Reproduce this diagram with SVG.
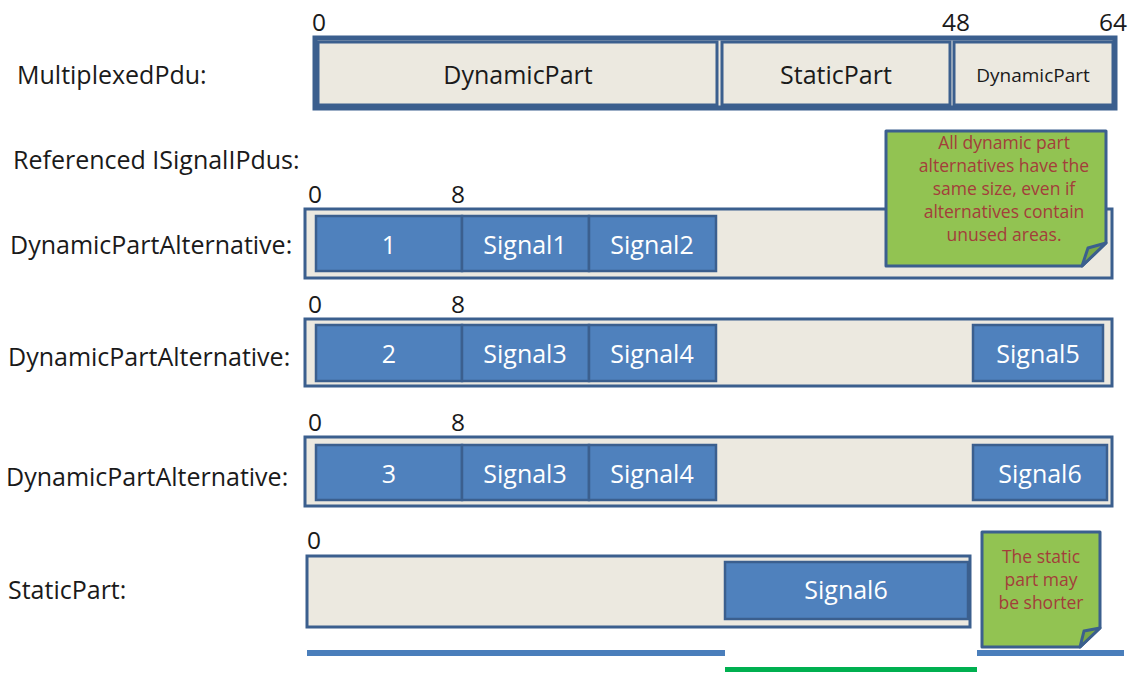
<svg xmlns="http://www.w3.org/2000/svg" width="1135" height="673" viewBox="0 0 1135 673">
<style>
text{font-family:"Open Sans","Liberation Sans",sans-serif;}
.lbl{font-size:25px;fill:#1a1a1a;}
.num{font-size:24.5px;fill:#1a1a1a;}
.outer{fill:#ece9e0;stroke:#3b5f8e;stroke-width:3;}
.pduouter{fill:#ece9e0;stroke:#3b5f8e;stroke-width:5;}
.cell{fill:#ece9e0;stroke:#3b5f8e;stroke-width:3;}
.sig{fill:#4f81bd;stroke:#3b5f8e;stroke-width:2.5;}
.ct{font-size:25px;fill:#1a1a1a;text-anchor:middle;}
.st{font-size:25px;fill:#ffffff;text-anchor:middle;}
.note{fill:#92c352;stroke:#3b5f8e;stroke-width:3;stroke-linejoin:round;}
.nt{font-size:17.5px;fill:#a33e3a;text-anchor:middle;}
</style>
<rect width="1135" height="673" fill="#ffffff"/>
<g id="labels">
<text class="lbl" x="17" y="84">MultiplexedPdu:</text>
<text class="lbl" x="13" y="169">Referenced ISignalIPdus:</text>
<text class="lbl" x="10" y="254">DynamicPartAlternative:</text>
<text class="lbl" x="8" y="366">DynamicPartAlternative:</text>
<text class="lbl" x="6" y="486">DynamicPartAlternative:</text>
<text class="lbl" x="8" y="599">StaticPart:</text>
</g>
<g id="multiplexedPdu">
<rect class="pduouter" x="315" y="38" width="800" height="70"/>
<rect class="cell" x="318" y="42" width="399" height="63"/>
<rect class="cell" x="722" y="42" width="228" height="63"/>
<rect class="cell" x="954" y="42" width="159" height="63"/>
<text class="ct" x="518" y="84">DynamicPart</text>
<text class="ct" x="836" y="84">StaticPart</text>
<text class="ct" x="1033" y="82" style="font-size:19px">DynamicPart</text>
<text class="num" x="312" y="31">0</text>
<text class="num" x="942" y="31">48</text>
<text class="num" x="1099" y="31">64</text>
</g>
<g id="alt1">
<rect class="outer" x="305" y="209" width="807" height="69"/>
<rect class="sig" x="316" y="216" width="146" height="55"/>
<rect class="sig" x="462" y="216" width="127" height="55"/>
<rect class="sig" x="589" y="216" width="127" height="55"/>
<text class="st" x="389" y="254">1</text>
<text class="st" x="525" y="254">Signal1</text>
<text class="st" x="652" y="254">Signal2</text>
<text class="num" x="308" y="203">0</text>
<text class="num" x="451" y="203">8</text>
</g>
<g id="alt2">
<rect class="outer" x="305" y="319" width="807" height="67"/>
<rect class="sig" x="316" y="325" width="146" height="56"/>
<rect class="sig" x="462" y="325" width="127" height="56"/>
<rect class="sig" x="589" y="325" width="127" height="56"/>
<rect class="sig" x="973" y="325" width="130" height="56"/>
<text class="st" x="389" y="363">2</text>
<text class="st" x="525" y="363">Signal3</text>
<text class="st" x="652" y="363">Signal4</text>
<text class="st" x="1038" y="363">Signal5</text>
<text class="num" x="308" y="313">0</text>
<text class="num" x="451" y="313">8</text>
</g>
<g id="alt3">
<rect class="outer" x="305" y="437" width="807" height="69"/>
<rect class="sig" x="316" y="445" width="146" height="55"/>
<rect class="sig" x="462" y="445" width="127" height="55"/>
<rect class="sig" x="589" y="445" width="127" height="55"/>
<rect class="sig" x="973" y="445" width="134" height="55"/>
<text class="st" x="389" y="483">3</text>
<text class="st" x="525" y="483">Signal3</text>
<text class="st" x="652" y="483">Signal4</text>
<text class="st" x="1040" y="483">Signal6</text>
<text class="num" x="308" y="431">0</text>
<text class="num" x="451" y="431">8</text>
</g>
<g id="staticPart">
<rect class="outer" x="307" y="556" width="663" height="71"/>
<rect class="sig" x="725" y="562" width="243" height="57"/>
<text class="st" x="846" y="599">Signal6</text>
<text class="num" x="307" y="549">0</text>
</g>
<g id="connectors">
<rect x="307" y="650" width="418" height="6" fill="#4a7ebb"/>
<rect x="725" y="667" width="252" height="5" fill="#00b050"/>
<rect x="977" y="650" width="147" height="6" fill="#4a7ebb"/>
</g>
<g id="note1">
<path class="note" d="M886 131 H1106 V243 L1082 266 H886 Z"/>
<path class="note" d="M1082 266 L1088 248 L1106 243 Z" style="fill:#7aa846"/>
<text class="nt" x="1004" y="149">All dynamic part</text>
<text class="nt" x="1004" y="172">alternatives have the</text>
<text class="nt" x="1004" y="195">same size, even if</text>
<text class="nt" x="1004" y="218">alternatives contain</text>
<text class="nt" x="1004" y="241">unused areas.</text>
</g>
<g id="note2">
<path class="note" d="M982 532 H1100 V628 L1080 647 H982 Z"/>
<path class="note" d="M1080 647 L1084 631 L1100 628 Z" style="fill:#7aa846"/>
<text class="nt" x="1041" y="563">The static</text>
<text class="nt" x="1041" y="586">part may</text>
<text class="nt" x="1041" y="609">be shorter</text>
</g>
</svg>
